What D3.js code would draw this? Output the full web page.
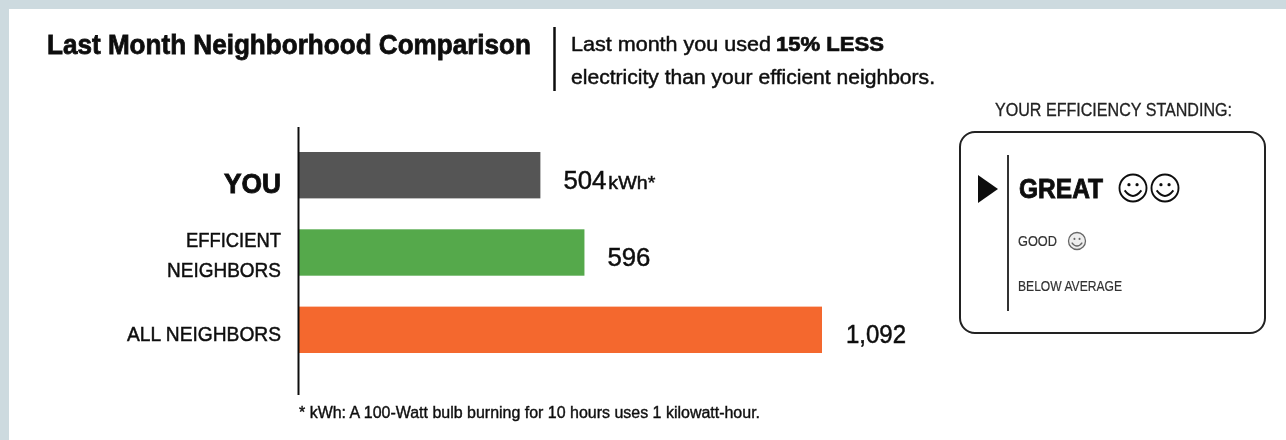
<!DOCTYPE html>
<html>
<head>
<meta charset="utf-8">
<script src="https://cdn.jsdelivr.net/npm/d3@7"></script>
<style>
  html, body { margin: 0; padding: 0; background: #cddadf; }
  svg { display: block; }
  text { font-family: "Liberation Sans", Arial, sans-serif; fill: #111; }
</style>
</head>
<body>
<div id="chart"></div>
<script>
const categories = ['YOU', 'EFFICIENT NEIGHBORS', 'ALL NEIGHBORS']
const usage = [504, 596, 1092]
const barColors = ['#555555', '#54a94b', '#f4682f']
const valueLabels = ['504', '596', '1,092']
const standings = ['GREAT', 'GOOD', 'BELOW AVERAGE']

const width = 1286
const height = 440

const svg = d3.select('#chart')
  .append('svg')
  .attr('width', width)
  .attr('height', height)

// The source picture is a soft, upscaled scan
svg.append('defs')
  .append('filter')
  .attr('id', 'soft')
  .attr('x', 0)
  .attr('y', 0)
  .attr('width', 1)
  .attr('height', 1)
  .append('feGaussianBlur')
  .attr('stdDeviation', 0.65)

svg.append('rect')
  .attr('x', 9)
  .attr('y', 9)
  .attr('width', 1277)
  .attr('height', 431)
  .attr('fill', '#ffffff')

const chart = svg.append('g')
  .attr('filter', 'url(#soft)')

chart.append('rect')
  .attr('x', 9)
  .attr('y', 9)
  .attr('width', 1277)
  .attr('height', 431)
  .attr('fill', '#ffffff')

// Text squeezed to the measured width, the original face is narrower than Liberation.
// A thin stroke keeps the weight once the blur has been applied.
function label (str, x, y, size, len, opts = {}) {
  const color = opts.color || '#111'
  return chart.append('text')
    .attr('x', x)
    .attr('y', y)
    .attr('font-size', size)
    .attr('font-weight', opts.weight || 400)
    .attr('text-anchor', opts.anchor || 'start')
    .attr('textLength', len)
    .attr('lengthAdjust', 'spacingAndGlyphs')
    .attr('stroke', color)
    .attr('stroke-width', opts.stroke === undefined ? 0.5 : opts.stroke)
    .style('fill', color)
    .text(str)
}

// Header
label('Last Month Neighborhood Comparison', 47, 54, 28, 484, { weight: 700, stroke: 0.8 })

chart.append('line')
  .attr('x1', 554.5)
  .attr('x2', 554.5)
  .attr('y1', 27)
  .attr('y2', 91)
  .attr('stroke', '#111')
  .attr('stroke-width', 2.5)

label('Last month you used', 571, 51, 20.5, 200)
label('15% LESS', 776, 51, 20.5, 108, { weight: 700, stroke: 0.7 })
label('electricity than your efficient neighbors.', 571, 84, 20.5, 364)

// Bars
const x = d3.scaleLinear()
  .domain([0, 1092])
  .range([299, 822])

const y = d3.scaleBand()
  .domain(categories)
  .range([152, 353])
  .paddingInner(0.4)
  .paddingOuter(0)

chart.append('g')
  .selectAll('rect')
  .data(categories)
  .join('rect')
  .attr('x', x(0))
  .attr('y', d => y(d))
  .attr('width', (d, i) => x(usage[i]) - x(0))
  .attr('height', y.bandwidth())
  .attr('fill', (d, i) => barColors[i])

chart.append('line')
  .attr('x1', x(0) - 0.5)
  .attr('x2', x(0) - 0.5)
  .attr('y1', 127)
  .attr('y2', 395)
  .attr('stroke', '#111')
  .attr('stroke-width', 2)

// Category labels
const labelX = 281
const mid = d => y(d) + y.bandwidth() / 2
const [you, efficient, all] = categories

label(you, labelX, mid(you) + 18, 27, 57, { weight: 700, anchor: 'end', stroke: 0.9 })
label(efficient.split(' ')[0], labelX, mid(efficient) - 6, 21, 95, { anchor: 'end' })
label(efficient.split(' ')[1], labelX, mid(efficient) + 24, 21, 114, { anchor: 'end' })
label(all, labelX, mid(all) + 11, 21, 154, { anchor: 'end' })

// Value labels
label(valueLabels[0], x(usage[0]) + 23, mid(you) + 14, 26, 43)
label('kWh*', x(usage[0]) + 68, mid(you) + 14, 19, 47)
label(valueLabels[1], x(usage[1]) + 23, mid(efficient) + 13, 26, 43)
label(valueLabels[2], x(usage[2]) + 24, mid(all) + 13, 25, 60)

// Footnote
label('* kWh: A 100-Watt bulb burning for 10 hours uses 1 kilowatt-hour.', 299, 418, 16, 461, { stroke: 0.4 })

// Standing panel
label('YOUR EFFICIENCY STANDING:', 995, 116, 18, 237, { stroke: 0.3, color: '#222' })

chart.append('rect')
  .attr('x', 960)
  .attr('y', 132)
  .attr('width', 305)
  .attr('height', 201)
  .attr('rx', 15)
  .attr('fill', 'none')
  .attr('stroke', '#222')
  .attr('stroke-width', 2)

chart.append('line')
  .attr('x1', 1008)
  .attr('x2', 1008)
  .attr('y1', 155)
  .attr('y2', 311)
  .attr('stroke', '#333')
  .attr('stroke-width', 2)

chart.append('path')
  .attr('d', 'M978,175L998,189L978,203Z')
  .attr('fill', '#111')

label(standings[0], 1019, 198, 27, 84, { weight: 700, stroke: 0.9 })
label(standings[1], 1018, 246, 15, 39, { color: '#333', stroke: 0.2 })
label(standings[2], 1018, 291, 15, 104, { color: '#333', stroke: 0.2 })

function smiley (cx, cy, r, color, sw, fill) {
  const g = chart.append('g')
    .attr('transform', `translate(${cx},${cy})`)
    .attr('fill', 'none')
    .attr('stroke', color)
    .attr('stroke-width', sw)
  g.append('circle')
    .attr('r', r)
    .attr('fill', fill)
  g.append('path')
    .attr('d', `M${-r * 0.62},${r * 0.18}Q0,${r * 1} ${r * 0.62},${r * 0.18}`)
  ;[-0.3, 0.3].forEach(k => {
    g.append('circle')
      .attr('cx', k * r)
      .attr('cy', -r * 0.25)
      .attr('r', r * 0.12)
      .attr('fill', color)
      .attr('stroke', 'none')
  })
}

smiley(1133, 188, 13.5, '#111', 1.9, 'none')
smiley(1165, 188, 13.5, '#111', 1.9, 'none')
smiley(1077, 241, 8.5, '#666', 1.3, '#eeeeee')
</script>
</body>
</html>
